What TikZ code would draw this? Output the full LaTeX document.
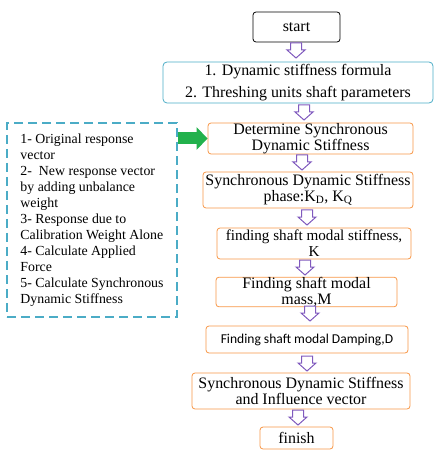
\documentclass[tikz,border=0pt]{standalone}
\usepackage{fontspec}
\setmainfont{Liberation Serif}
\newfontfamily\carlito{Carlito}
\usetikzlibrary{arrows.meta}
\definecolor{boxorange}{RGB}{247,150,70}
\definecolor{boxblue}{RGB}{75,172,198}
\definecolor{arrowpurple}{RGB}{128,90,190}
\definecolor{arrowgreen}{RGB}{34,177,76}
\begin{document}
\begin{tikzpicture}[x=1bp,y=-1bp,
  every node/.style={font=\fontsize{16}{16}\selectfont,inner sep=0pt,align=center},
  stepbox/.style={draw=boxorange,rounded corners=3bp,line width=0.8bp},
  dnarrow/.pic={\draw[arrowpurple,line width=1bp,fill=white]
    (-5.5,-7)--(5.5,-7)--(5.5,0)--(9,0)--(0,8)--(-9,0)--(-5.5,0)--cycle;}]
\useasboundingbox (0,0) rectangle (441,452);
\node[draw,rounded corners=3bp,line width=0.8bp,minimum width=87bp,minimum height=30bp] (start) at (296.5,27) {start};
\node[draw=boxblue,rounded corners=4bp,line width=0.8bp,minimum width=270bp,minimum height=41bp] (formula) at (298,82.5)
  {1. Dynamic stiffness formula\\[6bp]2. Threshing units shaft parameters};
\node[stepbox,minimum width=205bp,minimum height=31bp] (synch) at (310.5,138.5) {Determine Synchronous\\Dynamic Stiffness};
\node[stepbox,minimum width=210bp,minimum height=36bp] (phase) at (308,190) {Synchronous Dynamic Stiffness\\phase:K\textsubscript{D}, K\textsubscript{Q}};
\node[stepbox,minimum width=194bp,minimum height=31bp,font=\fontsize{15.2}{16}\selectfont] (stiff) at (314,243.5) {finding shaft modal stiffness,\\K};
\node[stepbox,minimum width=181bp,minimum height=28bp] (mass) at (306.5,292) {Finding shaft modal\\mass,M};
\node[stepbox,minimum width=202bp,minimum height=27bp,font=\carlito\fontsize{13.6}{15}\selectfont] (damp) at (307,339.5) {Finding shaft modal Damping,D};
\node[stepbox,minimum width=218bp,minimum height=36bp] (influence) at (301,391) {Synchronous Dynamic Stiffness\\and Influence vector};
\node[stepbox,minimum width=73bp,minimum height=22bp] (finish) at (296.5,438) {finish};
% hollow arrows between the steps
\pic at (296,50) {dnarrow};
\pic at (304,112) {dnarrow};
\pic at (302,162) {dnarrow};
\pic at (307,217) {dnarrow};
\pic at (305,267) {dnarrow};
\pic at (310,313) {dnarrow};
\pic at (307,363) {dnarrow};
\pic at (298,417) {dnarrow};
% list of the sub steps
\node[draw=boxblue,dashed,dash pattern=on 9bp off 5bp,line width=1.5bp,minimum width=170bp,minimum height=194bp,
  align=left,font=\fontsize{13.9}{16}\selectfont] (steps) at (92,220)
  {1- Original response\\vector\\2-\ \ New response vector\\by adding unbalance\\weight\\3- Response due to\\
   Calibration Weight Alone\\4- Calculate Applied\\Force\\5- Calculate Synchronous\\Dynamic Stiffness};
\draw[arrowgreen,line width=12bp,-{Triangle[length=11bp,width=22bp]}] (steps.east|-synch.west)--(synch.west);
\end{tikzpicture}
\end{document}
